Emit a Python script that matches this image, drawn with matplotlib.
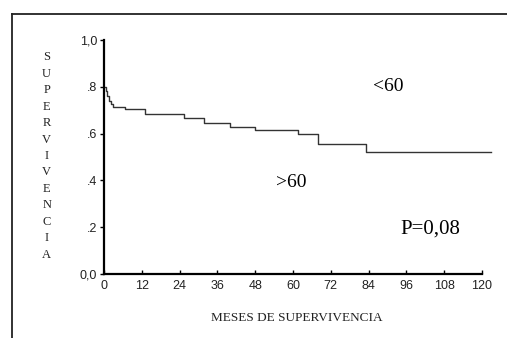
import matplotlib
matplotlib.use("Agg")
import matplotlib.pyplot as plt
from matplotlib.lines import Line2D
import numpy as np

# survival curve (months, proportion surviving)
meses = [0, 0.5, 1.0, 1.6, 2.2, 2.8, 6.6, 13.0, 25.3, 31.7, 40.0, 48.0, 61.7, 67.8, 83.3, 123.0]
superv = [0.80, 0.78, 0.76, 0.74, 0.725, 0.712, 0.705, 0.684, 0.667, 0.647, 0.627, 0.614, 0.598, 0.554, 0.52, 0.52]

x_ticks = [0, 12, 24, 36, 48, 60, 72, 84, 96, 108, 120]
y_ticks = [0.0, 0.2, 0.4, 0.6, 0.8, 1.0]
y_labels = ["0,0", ".2", ".4", ".6", ".8", "1,0"]
ylabel_text = "SUPERVIVENCIA"
xlabel_text = "MESES DE SUPERVIVENCIA"

W, H = 507, 338
fig = plt.figure(figsize=(W / 100, H / 100), dpi=100)
fig.patch.set_facecolor("white")

ax = fig.add_axes([104 / W, 1 - 274 / H, (493 - 104) / W, (274 - 40) / H])
ax.plot(meses, superv, drawstyle="steps-post", color="#333333", lw=1.0)

ax.set_xlim(0, 123.5)
ax.set_ylim(0, 1.0)
for s in ["top", "right"]:
    ax.spines[s].set_visible(False)
ax.spines["left"].set_linewidth(1.6)
ax.spines["bottom"].set_linewidth(1.6)
ax.spines["bottom"].set_bounds(0, 120)

ax.set_xticks(x_ticks)
ax.set_xticklabels([str(t) for t in x_ticks], fontsize=9, family="Liberation Sans", color="#222222")
ax.set_yticks(y_ticks)
ax.set_yticklabels(y_labels, fontsize=9, family="Liberation Sans", color="#222222")
ax.tick_params(axis="x", direction="in", length=3, width=1, pad=4)
ax.tick_params(axis="y", direction="out", length=3, width=1, pad=2)

serif = "Liberation Serif"
ax.text(90.4, 0.80, "<60", fontsize=14, family=serif, ha="center", va="center")
ax.text(59.6, 0.39, ">60", fontsize=14, family=serif, ha="center", va="center")
ax.text(103.7, 0.19, "P=0,08", fontsize=15, family=serif, ha="center", va="center")

# vertical stacked y label
ys = np.linspace(57.5, 254.5, len(ylabel_text))
for ch, yp in zip(ylabel_text, ys):
    fig.text(46.7 / W, 1 - yp / H, ch, fontsize=9, family=serif, ha="center", va="center", color="#222222")

fig.text(297 / W, 1 - 318 / H, xlabel_text, fontsize=9.5, family=serif, ha="center", va="center", color="#222222")

# outer frame (top and left sides only visible in scan)
fig.add_artist(Line2D([11.5 / W, 1.0], [1 - 14 / H, 1 - 14 / H], color="#222222", lw=1.3, transform=fig.transFigure))
fig.add_artist(Line2D([11.5 / W, 11.5 / W], [1 - 14 / H, 0.0], color="#222222", lw=1.3, transform=fig.transFigure))

fig.savefig("out.png", dpi=100)
